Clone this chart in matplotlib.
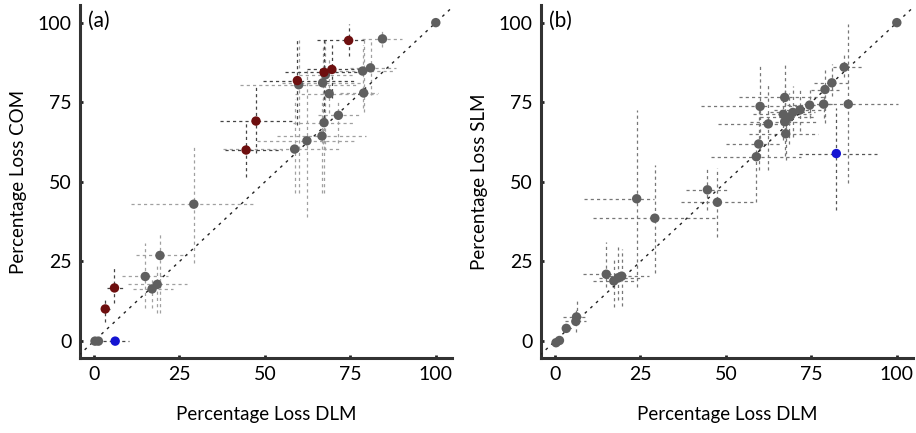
import matplotlib.pyplot as plt
import numpy as np

plt.rcParams['font.family'] = ['Lato', 'DejaVu Sans']

# ---- panel (a): DLM vs COM ----
a_grey_x = [100, 84.4, 80.9, 78.6, 67.7, 59.9, 66.9, 68.8, 78.9, 71.5, 67.3, 66.7, 62.3, 58.7, 29.2, 19.3, 15.0, 18.5, 17.0, 0.3, 1.3]
a_grey_y = [100, 94.9, 85.8, 84.8, 83.6, 80.5, 81.1, 77.7, 77.9, 70.9, 68.6, 64.4, 62.9, 60.3, 43.0, 26.9, 20.3, 17.8, 16.4, 0.0, 0.0]
a_grey_xlo = [100, 78.3, 74.9, 70.0, 60.0, 42.7, 55.0, 58.8, 72.0, 65.5, 58.2, 53.4, 47.6, 37.7, 10.7, 12.3, 8.1, 10.0, 11.5, -0.5, 0.5]
a_grey_xhi = [100, 90.0, 88.5, 88.0, 76.0, 76.8, 78.0, 82.7, 83.0, 77.8, 76.3, 79.7, 76.8, 72.0, 47.3, 27.1, 21.7, 27.1, 23.2, 1.0, 2.0]
a_grey_ylo = [100, 92.5, 77.4, 73.3, 60.0, 46.5, 62.0, 71.7, 72.0, 62.3, 46.5, 46.5, 39.0, 46.5, 24.5, 8.7, 10.4, 8.8, 10.4, -0.5, -0.5]
a_grey_yhi = [100, 97.8, 95.0, 93.0, 95.0, 94.7, 93.0, 89.0, 95.0, 75.3, 88.0, 76.0, 85.0, 76.0, 61.6, 34.4, 30.9, 24.5, 19.8, 0.5, 0.5]

a_red_x = [74.5, 69.6, 67.3, 59.5, 47.4, 44.5, 6.0, 3.3]
a_red_y = [94.4, 85.3, 84.4, 81.8, 69.1, 60.0, 16.7, 10.1]
a_red_xlo = [65.3, 62.2, 55.8, 49.4, 36.8, 38.3, 3.7, 2.3]
a_red_xhi = [80.0, 78.3, 77.8, 76.8, 58.2, 55.0, 8.5, 4.7]
a_red_ylo = [89.4, 76.3, 70.1, 68.0, 59.0, 51.6, 12.0, 6.1]
a_red_yhi = [99.6, 94.0, 94.7, 94.7, 80.5, 68.6, 23.6, 13.9]

a_blue_x = [6.2]
a_blue_y = [0.0]
a_blue_xlo = [2.6]
a_blue_xhi = [10.2]
a_blue_ylo = [-0.5]
a_blue_yhi = [0.5]

# ---- panel (b): DLM vs SLM ----
b_grey_x = [100, 84.6, 81.0, 79.0, 85.8, 78.6, 74.5, 71.7, 69.6, 67.2, 60.0, 66.8, 68.5, 67.2, 62.4, 67.5,
            59.6, 58.9, 44.6, 23.9, 47.5, 29.2, 15.0, 17.2, 18.5, 19.5, 6.3, 6.1, 3.3, 1.3, 0.3]
b_grey_y = [100, 86.0, 81.1, 79.0, 74.4, 74.4, 74.1, 72.6, 71.8, 76.5, 73.7, 71.2, 70.3, 68.9, 68.2, 65.1,
            61.9, 57.9, 47.5, 44.7, 43.6, 38.6, 21.0, 18.9, 19.9, 20.4, 7.6, 6.2, 4.0, 0.2, -0.5]
b_grey_xlo = [100, 81.2, 75.7, 74.9, 79.7, 72.8, 68.0, 64.0, 63.0, 53.8, 42.7, 58.0, 60.0, 57.0, 47.6, 56.7,
              50.0, 45.6, 38.3, 8.6, 36.8, 11.0, 8.1, 11.0, 13.0, 14.0, 2.2, 3.0, 2.0, 0.8, -0.2]
b_grey_xhi = [100, 90.0, 85.6, 83.0, 100.2, 81.5, 80.0, 78.0, 76.0, 78.7, 71.0, 75.0, 76.0, 77.0, 69.0, 76.9,
              66.0, 72.0, 50.9, 29.0, 58.3, 47.6, 18.3, 23.0, 25.0, 27.5, 9.1, 9.0, 5.0, 1.8, 0.8]
b_grey_ylo = [100, 83.0, 77.0, 68.5, 49.7, 70.0, 70.0, 66.0, 64.0, 64.0, 57.9, 63.0, 62.0, 58.0, 53.8, 57.0,
              53.8, 43.7, 41.2, 17.1, 32.8, 21.4, 17.1, 10.8, 13.0, 11.0, 5.7, 3.0, 3.0, -0.3, -1.0]
b_grey_yhi = [100, 90.6, 87.0, 85.0, 99.7, 78.0, 79.0, 79.0, 80.0, 87.4, 86.8, 79.0, 78.0, 80.0, 81.0, 68.6,
              73.0, 60.0, 54.4, 72.6, 54.4, 55.3, 31.2, 26.5, 29.5, 29.0, 12.9, 10.0, 5.0, 0.7, 0.0]

b_blue_x = [82.3]
b_blue_y = [58.9]
b_blue_xlo = [71.3]
b_blue_xhi = [94.3]
b_blue_ylo = [41.2]
b_blue_yhi = [73.3]

ticks = [0, 25, 50, 75, 100]


def draw_group(ax, x, y, xlo, xhi, ylo, yhi, color, barcolor):
    x = np.array(x); y = np.array(y)
    xerr = [x - np.array(xlo), np.array(xhi) - x]
    yerr = [y - np.array(ylo), np.array(yhi) - y]
    eb = ax.errorbar(x, y, xerr=xerr, yerr=yerr, fmt='none', ecolor=barcolor,
                     elinewidth=0.9, capsize=0, zorder=2)
    for lc in eb[2]:
        lc.set_linestyle((0, (2.5, 2.5)))
    ax.scatter(x, y, s=46, color=color, edgecolors='none', zorder=4)


def style_axes(ax, ylabel, tag):
    ax.plot([-6, 106], [-6, 106], color='#222222', lw=1.0, linestyle=(0, (2, 3.5)), zorder=3)
    ax.set_xlim(-4.1, 104.7)
    ax.set_ylim(-5.3, 105.5)
    ax.set_xticks(ticks)
    ax.set_yticks(ticks)
    for s in ['top', 'right']:
        ax.spines[s].set_visible(False)
    for s in ['left', 'bottom']:
        ax.spines[s].set_linewidth(2.2)
        ax.spines[s].set_color('#333333')
    ax.tick_params(direction='in', length=2.5, width=2, color='#222222', labelsize=14, pad=6)
    ax.set_xlabel('Percentage Loss DLM', fontsize=13.5, labelpad=16)
    ax.set_ylabel(ylabel, fontsize=13.5, labelpad=8)
    ax.text(0.022, 0.955, tag, transform=ax.transAxes, fontsize=15, va='center', ha='left')


fig = plt.figure(figsize=(9.16, 4.33), dpi=100)
ax1 = fig.add_axes([0.0873, 0.1732, 0.406, 0.815])
ax2 = fig.add_axes([0.5906, 0.1732, 0.406, 0.815])

draw_group(ax1, a_grey_x, a_grey_y, a_grey_xlo, a_grey_xhi, a_grey_ylo, a_grey_yhi, '#5f5f5f', '#a0a0a0')
draw_group(ax1, a_red_x, a_red_y, a_red_xlo, a_red_xhi, a_red_ylo, a_red_yhi, '#6e0f0f', '#444444')
draw_group(ax1, a_blue_x, a_blue_y, a_blue_xlo, a_blue_xhi, a_blue_ylo, a_blue_yhi, '#1414d2', '#444444')
style_axes(ax1, 'Percentage Loss COM', '(a)')

draw_group(ax2, b_grey_x, b_grey_y, b_grey_xlo, b_grey_xhi, b_grey_ylo, b_grey_yhi, '#5f5f5f', '#777777')
draw_group(ax2, b_blue_x, b_blue_y, b_blue_xlo, b_blue_xhi, b_blue_ylo, b_blue_yhi, '#1414d2', '#555555')
style_axes(ax2, 'Percentage Loss SLM', '(b)')

fig.savefig('out.png', dpi=100)
